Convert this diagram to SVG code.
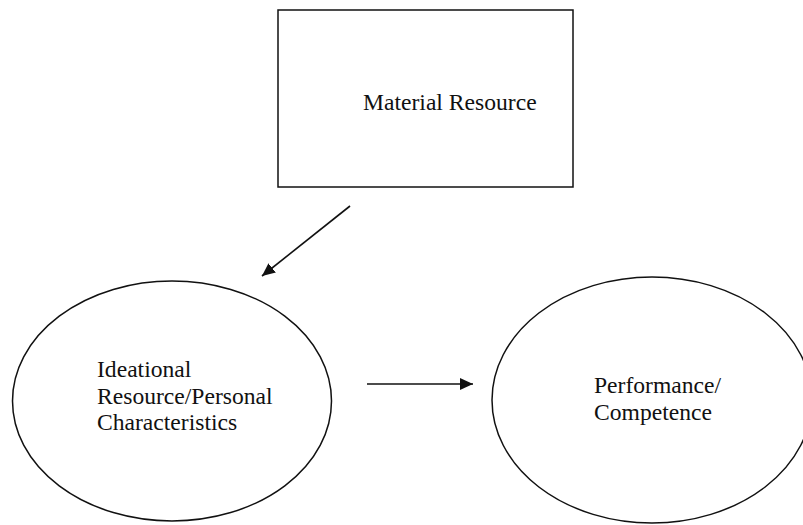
<svg xmlns="http://www.w3.org/2000/svg" width="803" height="525" viewBox="0 0 803 525">
<style>
.shape{fill:#fff;stroke:#111;stroke-width:1.5}
.lbl{font-family:"Liberation Serif","Times New Roman",serif;font-size:23.6px;fill:#111}
.conn{stroke:#111;stroke-width:1.6;fill:none}
</style>
<defs>
<marker id="ah" markerWidth="13" markerHeight="12" refX="13" refY="6" orient="auto" markerUnits="userSpaceOnUse">
<path d="M0,0 L13,6 L0,12 Z" fill="#111"/>
</marker>
</defs>
<rect width="803" height="525" fill="#fff"/>
<g id="material">
<rect class="shape" x="278" y="10" width="295" height="177"/>
<text class="lbl" x="363" y="110">Material Resource</text>
</g>
<g id="ideational">
<ellipse class="shape" cx="172" cy="401" rx="159.5" ry="120"/>
<text class="lbl" x="97" y="377">Ideational</text>
<text class="lbl" x="97" y="404">Resource/Personal</text>
<text class="lbl" x="97" y="430">Characteristics</text>
</g>
<g id="performance">
<ellipse class="shape" cx="652" cy="400" rx="160" ry="123"/>
<text class="lbl" x="594" y="393">Performance/</text>
<text class="lbl" x="594" y="420">Competence</text>
</g>
<g id="connectors">
<line class="conn" x1="350" y1="206" x2="262" y2="276" marker-end="url(#ah)"/>
<line class="conn" x1="367" y1="384" x2="473" y2="384" marker-end="url(#ah)"/>
</g>
</svg>
